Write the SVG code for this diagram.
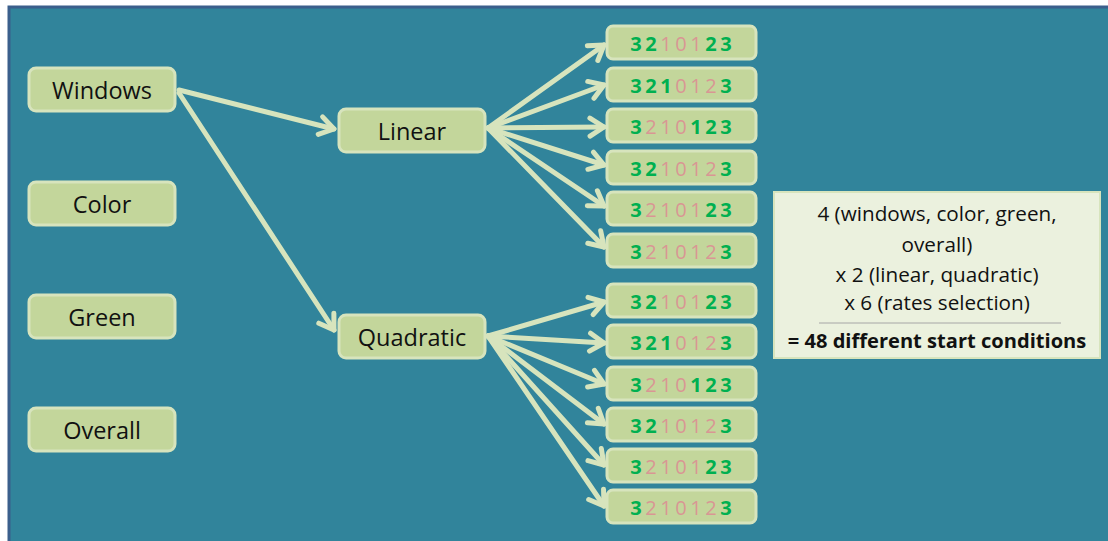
<svg xmlns="http://www.w3.org/2000/svg" width="1108" height="541" viewBox="0 0 1108 541">
  <defs>
    <style>
      .panel { fill: #31849b; stroke: #3b5f8c; stroke-width: 3; }
      .node rect { fill: #c3d69b; stroke: #d7e4bd; stroke-width: 3; }
      .label { font-family: "Open Sans", "Noto Sans", sans-serif; font-size: 23.5px; fill: #111; text-anchor: middle; dominant-baseline: central; }
      .digits { font-family: "Open Sans", "Noto Sans", sans-serif; font-size: 20px; text-anchor: middle; dominant-baseline: central; }
      .g { fill: #00b050; font-weight: bold; }
      .p { fill: #d99694; }
      .conn line { stroke: #d7e4bd; stroke-width: 5; stroke-linecap: round; }
      .summary rect { fill: #ebf1de; stroke: #d7e4bd; stroke-width: 2; }
      .summary text { font-family: "Open Sans", "Noto Sans", sans-serif; font-size: 20.7px; fill: #111; text-anchor: middle; dominant-baseline: central; }
      .summary .total { font-weight: bold; font-size: 20.1px; }
    </style>
    <marker id="arrow" markerUnits="userSpaceOnUse" viewBox="0 0 18 22" refX="16" refY="11" markerWidth="18" markerHeight="22" orient="auto" overflow="visible">
      <path d="M2,2 L16,11 L2,20" fill="none" stroke="#d7e4bd" stroke-width="5" stroke-linecap="round" stroke-linejoin="round"/>
    </marker>
  </defs>

  <!-- background panel -->
  <rect class="panel" x="9" y="7" width="1110" height="540"/>

  <!-- connectors -->
  <g id="connectors" class="conn">
    <line x1="179" y1="90" x2="334" y2="129" marker-end="url(#arrow)"/>
    <line x1="179" y1="93" x2="334" y2="330" marker-end="url(#arrow)"/>
    <line x1="488" y1="128" x2="604" y2="45" marker-end="url(#arrow)"/>
    <line x1="488" y1="128" x2="604" y2="85" marker-end="url(#arrow)"/>
    <line x1="488" y1="128" x2="604" y2="127" marker-end="url(#arrow)"/>
    <line x1="488" y1="128" x2="604" y2="165" marker-end="url(#arrow)"/>
    <line x1="488" y1="128" x2="604" y2="206" marker-end="url(#arrow)"/>
    <line x1="488" y1="128" x2="604" y2="247" marker-end="url(#arrow)"/>
    <line x1="488" y1="336" x2="604" y2="302" marker-end="url(#arrow)"/>
    <line x1="488" y1="336" x2="604" y2="343" marker-end="url(#arrow)"/>
    <line x1="488" y1="336" x2="604" y2="384" marker-end="url(#arrow)"/>
    <line x1="488" y1="336" x2="604" y2="424" marker-end="url(#arrow)"/>
    <line x1="488" y1="336" x2="604" y2="465" marker-end="url(#arrow)"/>
    <line x1="488" y1="336" x2="604" y2="506" marker-end="url(#arrow)"/>
  </g>

  <!-- measure nodes -->
  <g id="windows" class="node"><rect x="29" y="68" width="146" height="43" rx="7"/><text class="label" x="102" y="90">Windows</text></g>
  <g id="color" class="node"><rect x="29" y="182" width="146" height="43" rx="7"/><text class="label" x="102" y="204">Color</text></g>
  <g id="green" class="node"><rect x="29" y="295" width="146" height="43" rx="7"/><text class="label" x="102" y="317">Green</text></g>
  <g id="overall" class="node"><rect x="29" y="408" width="146" height="43" rx="7"/><text class="label" x="102" y="430">Overall</text></g>

  <!-- model nodes -->
  <g id="linear" class="node"><rect x="339" y="109" width="146" height="43" rx="7"/><text class="label" x="412" y="131">Linear</text></g>
  <g id="quadratic" class="node"><rect x="339" y="315" width="146" height="43" rx="7"/><text class="label" x="412" y="337">Quadratic</text></g>

  <!-- rate selections, linear -->
  <g id="lin-r1" class="node"><rect x="607" y="26" width="149" height="33" rx="6"/>
    <text class="digits" y="43"><tspan class="g" x="636">3</tspan><tspan class="g" x="651">2</tspan><tspan class="p" x="666">1</tspan><tspan class="p" x="681">0</tspan><tspan class="p" x="696">1</tspan><tspan class="g" x="711">2</tspan><tspan class="g" x="726">3</tspan></text></g>
  <g id="lin-r2" class="node"><rect x="607" y="68" width="149" height="33" rx="6"/>
    <text class="digits" y="85"><tspan class="g" x="636">3</tspan><tspan class="g" x="651">2</tspan><tspan class="g" x="666">1</tspan><tspan class="p" x="681">0</tspan><tspan class="p" x="696">1</tspan><tspan class="p" x="711">2</tspan><tspan class="g" x="726">3</tspan></text></g>
  <g id="lin-r3" class="node"><rect x="607" y="109" width="149" height="33" rx="6"/>
    <text class="digits" y="126"><tspan class="g" x="636">3</tspan><tspan class="p" x="651">2</tspan><tspan class="p" x="666">1</tspan><tspan class="p" x="681">0</tspan><tspan class="g" x="696">1</tspan><tspan class="g" x="711">2</tspan><tspan class="g" x="726">3</tspan></text></g>
  <g id="lin-r4" class="node"><rect x="607" y="151" width="149" height="33" rx="6"/>
    <text class="digits" y="168"><tspan class="g" x="636">3</tspan><tspan class="g" x="651">2</tspan><tspan class="p" x="666">1</tspan><tspan class="p" x="681">0</tspan><tspan class="p" x="696">1</tspan><tspan class="p" x="711">2</tspan><tspan class="g" x="726">3</tspan></text></g>
  <g id="lin-r5" class="node"><rect x="607" y="192" width="149" height="33" rx="6"/>
    <text class="digits" y="209"><tspan class="g" x="636">3</tspan><tspan class="p" x="651">2</tspan><tspan class="p" x="666">1</tspan><tspan class="p" x="681">0</tspan><tspan class="p" x="696">1</tspan><tspan class="g" x="711">2</tspan><tspan class="g" x="726">3</tspan></text></g>
  <g id="lin-r6" class="node"><rect x="607" y="234" width="149" height="33" rx="6"/>
    <text class="digits" y="251"><tspan class="g" x="636">3</tspan><tspan class="p" x="651">2</tspan><tspan class="p" x="666">1</tspan><tspan class="p" x="681">0</tspan><tspan class="p" x="696">1</tspan><tspan class="p" x="711">2</tspan><tspan class="g" x="726">3</tspan></text></g>

  <!-- rate selections, quadratic -->
  <g id="quad-r1" class="node"><rect x="607" y="284" width="149" height="33" rx="6"/>
    <text class="digits" y="301"><tspan class="g" x="636">3</tspan><tspan class="g" x="651">2</tspan><tspan class="p" x="666">1</tspan><tspan class="p" x="681">0</tspan><tspan class="p" x="696">1</tspan><tspan class="g" x="711">2</tspan><tspan class="g" x="726">3</tspan></text></g>
  <g id="quad-r2" class="node"><rect x="607" y="325" width="149" height="33" rx="6"/>
    <text class="digits" y="342"><tspan class="g" x="636">3</tspan><tspan class="g" x="651">2</tspan><tspan class="g" x="666">1</tspan><tspan class="p" x="681">0</tspan><tspan class="p" x="696">1</tspan><tspan class="p" x="711">2</tspan><tspan class="g" x="726">3</tspan></text></g>
  <g id="quad-r3" class="node"><rect x="607" y="367" width="149" height="33" rx="6"/>
    <text class="digits" y="384"><tspan class="g" x="636">3</tspan><tspan class="p" x="651">2</tspan><tspan class="p" x="666">1</tspan><tspan class="p" x="681">0</tspan><tspan class="g" x="696">1</tspan><tspan class="g" x="711">2</tspan><tspan class="g" x="726">3</tspan></text></g>
  <g id="quad-r4" class="node"><rect x="607" y="408" width="149" height="33" rx="6"/>
    <text class="digits" y="425"><tspan class="g" x="636">3</tspan><tspan class="g" x="651">2</tspan><tspan class="p" x="666">1</tspan><tspan class="p" x="681">0</tspan><tspan class="p" x="696">1</tspan><tspan class="p" x="711">2</tspan><tspan class="g" x="726">3</tspan></text></g>
  <g id="quad-r5" class="node"><rect x="607" y="449" width="149" height="33" rx="6"/>
    <text class="digits" y="466"><tspan class="g" x="636">3</tspan><tspan class="p" x="651">2</tspan><tspan class="p" x="666">1</tspan><tspan class="p" x="681">0</tspan><tspan class="p" x="696">1</tspan><tspan class="g" x="711">2</tspan><tspan class="g" x="726">3</tspan></text></g>
  <g id="quad-r6" class="node"><rect x="607" y="490" width="149" height="33" rx="6"/>
    <text class="digits" y="507"><tspan class="g" x="636">3</tspan><tspan class="p" x="651">2</tspan><tspan class="p" x="666">1</tspan><tspan class="p" x="681">0</tspan><tspan class="p" x="696">1</tspan><tspan class="p" x="711">2</tspan><tspan class="g" x="726">3</tspan></text></g>

  <!-- summary box -->
  <g id="summary" class="summary">
    <rect x="774" y="192" width="326" height="166"/>
    <text x="937" y="213">4 (windows, color, green,</text>
    <text x="937" y="244">overall)</text>
    <text x="937" y="274">x 2 (linear, quadratic)</text>
    <text x="937" y="302">x 6 (rates selection)</text>
    <line x1="819" y1="323" x2="1061" y2="323" stroke="#a6a6a6" stroke-width="1"/>
    <text class="total" x="937" y="340">= 48 different start conditions</text>
  </g>
</svg>
